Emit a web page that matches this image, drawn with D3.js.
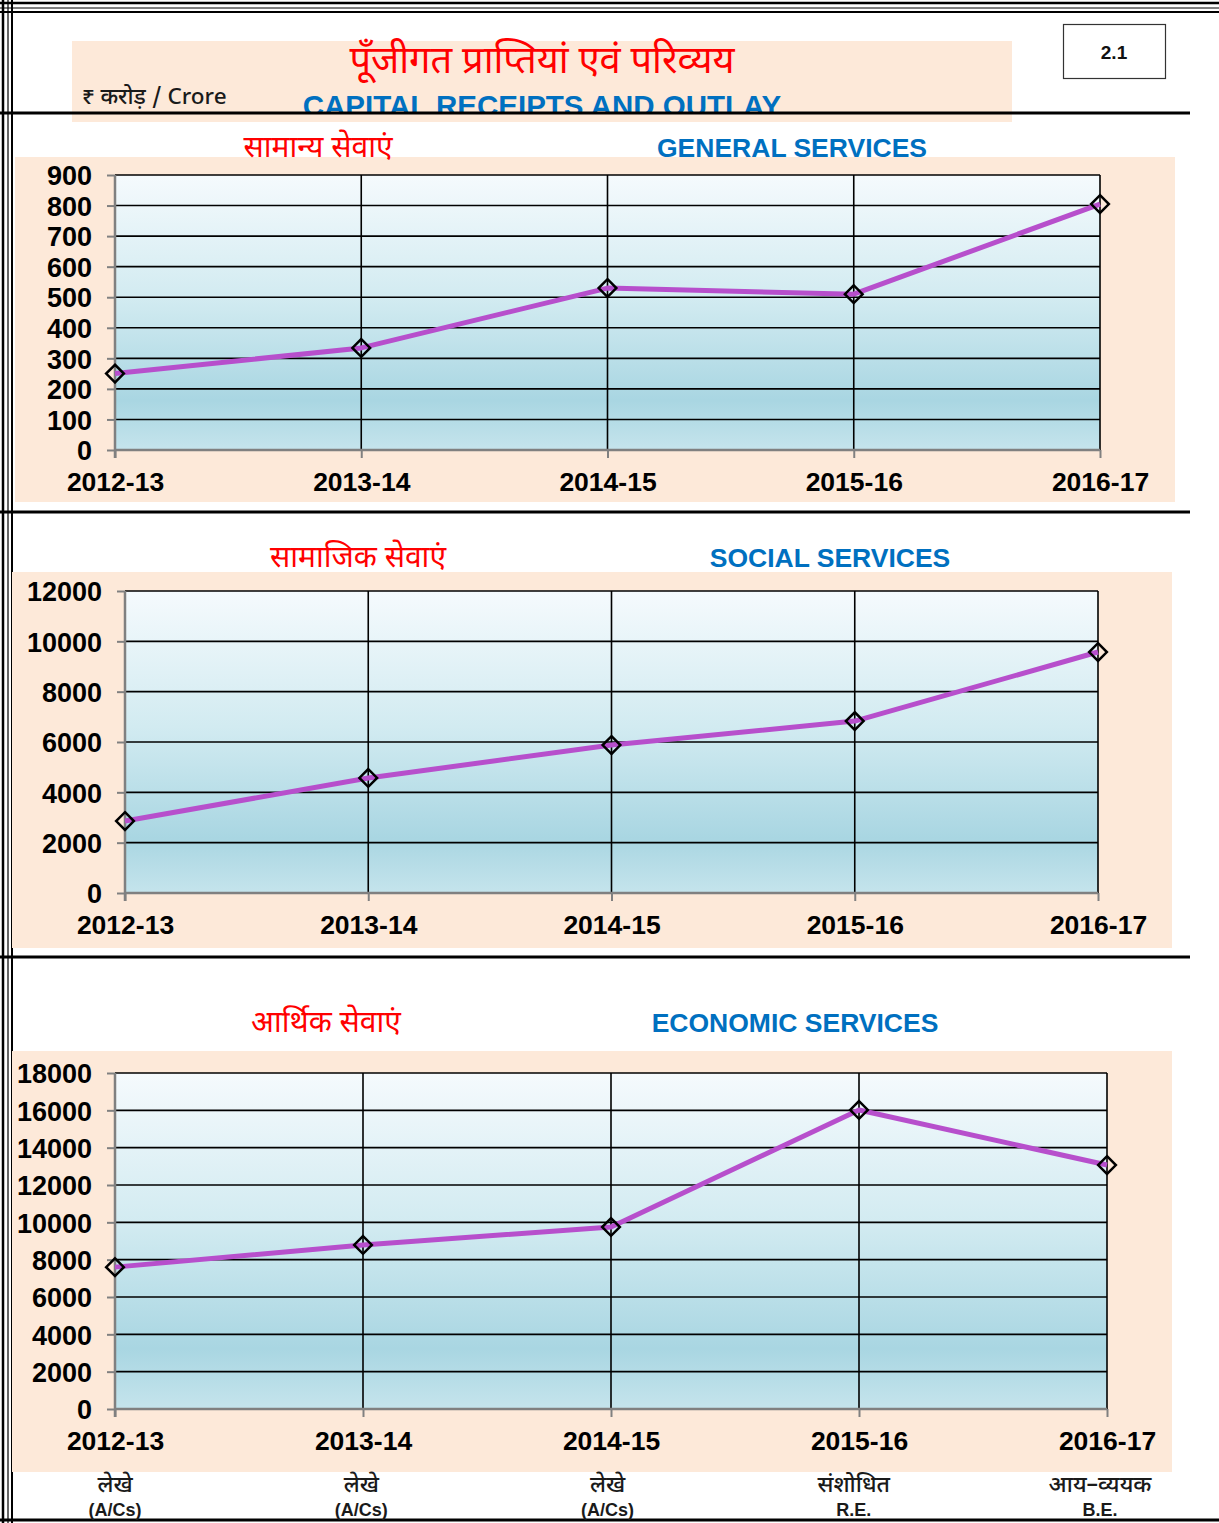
<!DOCTYPE html>
<html>
<head>
<meta charset="utf-8">
<script src="https://cdn.jsdelivr.net/npm/d3@7/dist/d3.min.js"></script>
<style>
  html, body { margin: 0; padding: 0; background: #fff; }
  svg { display: block; }
  .num { font-family: "Liberation Sans", Arial, sans-serif; font-weight: bold; }
  .deva { font-family: "Noto Sans Devanagari", "Lohit Devanagari", Mangal, "Noto Sans", sans-serif; }
</style>
</head>
<body>
<svg id="chart" width="1219" height="1523"></svg>
<script>
// Financial years shown on every panel
const years = ["2012-13", "2013-14", "2014-15", "2015-16", "2016-17"];
// Capital outlay, ₹ crore
const generalServices = [250, 334, 530, 510, 805];
const socialServices = [2860, 4570, 5880, 6830, 9575];
const economicServices = [7600, 8790, 9750, 16020, 13070];
// Value-axis ticks for each panel
const generalTicks = [0, 100, 200, 300, 400, 500, 600, 700, 800, 900];
const socialTicks = [0, 2000, 4000, 6000, 8000, 10000, 12000];
const economicTicks = [0, 2000, 4000, 6000, 8000, 10000, 12000, 14000, 16000, 18000];
// Status notes under the year axis
const notesHindi = ["लेखे", "लेखे", "लेखे", "संशोधित", "आय–व्ययक"];
const notesEnglish = ["(A/Cs)", "(A/Cs)", "(A/Cs)", "R.E.", "B.E."];

const svg = d3.select("#chart");
const RED = "#ff0000", BLUE = "#0070c0", PEACH = "#fde9d9", LINE = "#b74fcc";

// plot background gradient
const defs = svg.append("defs");
const grad = defs.append("linearGradient").attr("id", "plotBg")
  .attr("x1", 0).attr("y1", 0).attr("x2", 0).attr("y2", 1);
grad.append("stop").attr("offset", "0%").attr("stop-color", "#f5fafd");
grad.append("stop").attr("offset", "45%").attr("stop-color", "#d2ebf1");
grad.append("stop").attr("offset", "82%").attr("stop-color", "#a9d6e2");
grad.append("stop").attr("offset", "100%").attr("stop-color", "#c5e4ec");
defs.append("clipPath").attr("id", "titleClip")
  .append("rect").attr("x", 0).attr("y", 0).attr("width", 1219).attr("height", 112);

// page frame
const frame = svg.append("g");
[[3, 2.5], [8, 1.2], [12, 2]].forEach(([p, w]) => {
  frame.append("line").attr("x1", 0).attr("x2", 1219).attr("y1", p).attr("y2", p)
    .attr("stroke", "#000").attr("stroke-width", w);
  frame.append("line").attr("x1", p).attr("x2", p).attr("y1", 0).attr("y2", 1523)
    .attr("stroke", "#000").attr("stroke-width", w);
});
frame.append("line").attr("x1", 0).attr("x2", 1219).attr("y1", 1520).attr("y2", 1520)
  .attr("stroke", "#000").attr("stroke-width", 3);

// header
svg.append("rect").attr("x", 72).attr("y", 41).attr("width", 940).attr("height", 81).attr("fill", PEACH);
svg.append("text").attr("class", "deva").attr("x", 542).attr("y", 73)
  .attr("text-anchor", "middle").attr("font-size", 38).attr("fill", RED)
  .text("पूँजीगत प्राप्तियां एवं परिव्यय");
svg.append("text").attr("class", "num").attr("x", 542).attr("y", 116)
  .attr("clip-path", "url(#titleClip)")
  .attr("text-anchor", "middle").attr("font-size", 29.5).attr("fill", BLUE)
  .text("CAPITAL RECEIPTS AND OUTLAY");
svg.append("text").attr("class", "deva").attr("x", 82).attr("y", 104)
  .attr("font-size", 22.5).attr("font-weight", 500).attr("fill", "#1a1a1a").text("₹ करोड़ / Crore");
svg.append("rect").attr("x", 1063.5).attr("y", 24.5).attr("width", 102).attr("height", 54)
  .attr("fill", "#fff").attr("stroke", "#333").attr("stroke-width", 1.2);
svg.append("text").attr("class", "num").attr("x", 1114).attr("y", 59)
  .attr("text-anchor", "middle").attr("font-size", 19).attr("fill", "#111").text("2.1");

// section separators
[113, 512, 957].forEach(y => {
  svg.append("line").attr("x1", 0).attr("x2", 1190).attr("y1", y).attr("y2", y)
    .attr("stroke", "#000").attr("stroke-width", 3);
});

const panels = [
  { values: generalServices, ticks: generalTicks, max: 900,
    hi: "सामान्य सेवाएं", en: "GENERAL SERVICES", hiX: 318, enX: 792, titleY: 157,
    bg: [15, 157, 1175, 502], plot: [115, 175, 1100, 450], xLabY: 491 },
  { values: socialServices, ticks: socialTicks, max: 12000,
    hi: "सामाजिक सेवाएं", en: "SOCIAL SERVICES", hiX: 358, enX: 830, titleY: 567,
    bg: [12, 572, 1172, 948], plot: [125, 591, 1098, 893], xLabY: 934 },
  { values: economicServices, ticks: economicTicks, max: 18000,
    hi: "आर्थिक सेवाएं", en: "ECONOMIC SERVICES", hiX: 326, enX: 795, titleY: 1032,
    bg: [12, 1051, 1172, 1472], plot: [115, 1073, 1107, 1409], xLabY: 1450 }
];

panels.forEach(p => {
  const [bx0, by0, bx1, by1] = p.bg;
  const [px0, py0, px1, py1] = p.plot;
  svg.append("rect").attr("x", bx0).attr("y", by0).attr("width", bx1 - bx0).attr("height", by1 - by0)
    .attr("fill", PEACH);
  svg.append("text").attr("class", "deva").attr("x", p.hiX).attr("y", p.titleY)
    .attr("text-anchor", "middle").attr("font-size", 30).attr("fill", RED).text(p.hi);
  svg.append("text").attr("class", "num").attr("x", p.enX).attr("y", p.titleY)
    .attr("text-anchor", "middle").attr("font-size", 26.5).attr("fill", BLUE).text(p.en);

  const x = d3.scalePoint().domain(years).range([px0, px1]).padding(0);
  const y = d3.scaleLinear().domain([0, p.max]).range([py1, py0]);

  const g = svg.append("g");
  g.append("rect").attr("x", px0).attr("y", py0).attr("width", px1 - px0).attr("height", py1 - py0)
    .attr("fill", "url(#plotBg)");

  // horizontal gridlines
  g.selectAll(".hg").data(p.ticks.filter(t => t > 0)).join("line")
    .attr("x1", px0).attr("x2", px1).attr("y1", d => y(d)).attr("y2", d => y(d))
    .attr("stroke", "#000").attr("stroke-width", 1.6);
  // vertical gridlines
  g.selectAll(".vg").data(years.slice(1)).join("line")
    .attr("x1", d => x(d)).attr("x2", d => x(d)).attr("y1", py0).attr("y2", py1)
    .attr("stroke", "#000").attr("stroke-width", 1.6);

  // value axis
  const ya = g.append("g").attr("transform", `translate(${px0},0)`)
    .call(d3.axisLeft(y).tickValues(p.ticks).tickSize(8).tickPadding(15).tickFormat(d3.format("d")));
  ya.select(".domain").attr("stroke", "#808080").attr("stroke-width", 2.5)
    .attr("d", `M0,${py0}V${py1 + 8}`);
  ya.selectAll(".tick line").attr("stroke", "#808080").attr("stroke-width", 2);
  ya.selectAll(".tick text").attr("class", "num").attr("font-size", 27).attr("fill", "#000")
    .attr("dy", "0.36em");

  // category axis
  const xa = g.append("g").attr("transform", `translate(0,${py1})`)
    .call(d3.axisBottom(x).tickSize(8).tickPadding(0));
  xa.select(".domain").attr("stroke", "#808080").attr("stroke-width", 2.5)
    .attr("d", `M${px0},0H${px1}`);
  xa.selectAll(".tick line").attr("stroke", "#808080").attr("stroke-width", 2);
  xa.selectAll(".tick text").attr("class", "num").attr("font-size", 26.5).attr("fill", "#000")
    .attr("y", p.xLabY - py1).attr("dy", 0);

  // series line
  const pts = years.map((yr, i) => [x(yr), y(p.values[i])]);
  g.append("path").datum(pts).attr("d", d3.line())
    .attr("fill", "none").attr("stroke", LINE).attr("stroke-width", 5)
    .attr("stroke-linejoin", "round");
  g.selectAll(".mk").data(pts).join("path")
    .attr("transform", d => `translate(${d[0]},${d[1]})`)
    .attr("d", d3.symbol(d3.symbolDiamond2, 200)())
    .attr("fill", "none").attr("stroke", "#000").attr("stroke-width", 2.5);
});

// status notes under the last panel
const xNotes = d3.scalePoint().domain(years).range([115, 1100]).padding(0);
svg.append("g").selectAll("text").data(years).join("text")
  .attr("class", "deva").attr("x", d => xNotes(d)).attr("y", 1492)
  .attr("text-anchor", "middle").attr("font-size", 23).attr("font-weight", 500).attr("fill", "#1a1a1a")
  .text((d, i) => notesHindi[i]);
svg.append("g").selectAll("text").data(years).join("text")
  .attr("class", "num").attr("x", d => xNotes(d)).attr("y", 1516)
  .attr("text-anchor", "middle").attr("font-size", 18).attr("fill", "#1a1a1a")
  .text((d, i) => notesEnglish[i]);
</script>
</body>
</html>
